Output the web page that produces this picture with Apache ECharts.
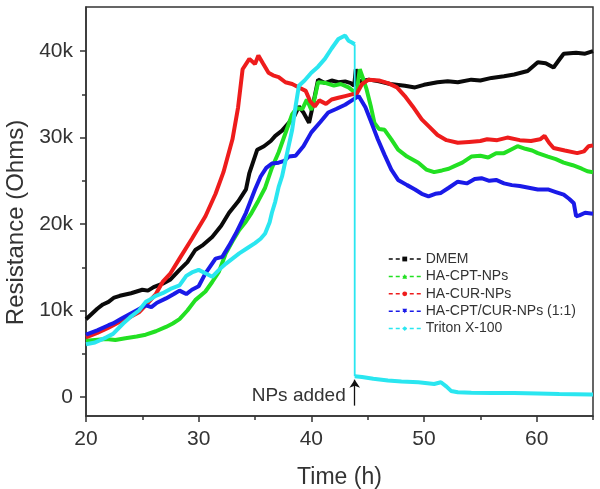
<!DOCTYPE html>
<html>
<head>
<meta charset="utf-8">
<script src="https://cdn.jsdelivr.net/npm/echarts@6/dist/echarts.min.js"></script>
<style>
html,body{margin:0;padding:0;background:#fff;}
#chart{width:600px;height:489px;}
</style>
</head>
<body>
<div id="chart"></div>
<script>
// ---- data (time in h, resistance in Ohms) ----
const seriesNames = ['DMEM', 'HA-CPT-NPs', 'HA-CUR-NPs', 'HA-CPT/CUR-NPs (1:1)', 'Triton X-100'];

const dmem = [[20,9000],[20.5,9600],[21,10200],[21.5,10700],[22,11000],[22.5,11500],[23,11700],[24,12000],[25,12400],[25.5,12300],[26,12700],[26.8,13100],[27.5,13600],[28.3,14700],[29,15600],[29.7,17000],[30.3,17500],[31.2,18500],[32,19800],[32.7,21300],[33.5,22600],[34.2,24000],[34.5,25900],[35.2,28600],[35.8,29000],[36.4,29600],[36.8,30200],[37.4,30800],[38,31700],[38.5,32500],[38.9,33600],[39.3,32900],[39.8,31700],[40.1,33500],[40.6,36700],[41.2,36300],[41.8,36600],[42.4,36400],[43,36500],[43.5,36300],[43.8,36000],[43.95,37900],[44.2,36500],[45.1,36700],[46,36500],[47,36200],[48.3,36000],[49.2,35800],[50,36100],[51.2,36400],[52.1,36500],[53,36400],[54.2,36700],[55,36600],[56,36900],[57.1,37100],[58,37300],[59.2,37700],[60.1,38700],[60.8,38600],[61.5,38100],[62,39000],[62.4,39700],[63.5,39800],[64.3,39700],[65,40000]];

const haCpt = [[20,6500],[20.8,6600],[21.8,6700],[22.6,6600],[23.5,6800],[24.5,7000],[25.3,7200],[26.2,7600],[27.1,8100],[27.7,8500],[28.3,9000],[29,10000],[29.7,11200],[30.6,12200],[31.2,13300],[31.8,14500],[32.4,16600],[33,18000],[33.6,19300],[34.2,20300],[34.7,21300],[35.3,22700],[35.9,24200],[36.5,26500],[37.1,28300],[37.7,30500],[38.3,32700],[38.7,33400],[39.2,33300],[39.6,34400],[40,33200],[40.3,34600],[40.6,36400],[41.3,36300],[42,36000],[42.6,36200],[43.3,35800],[43.9,35200],[44.1,36000],[44.3,37900],[44.6,36800],[44.9,35600],[45.3,33500],[45.6,31700],[46,31000],[46.5,30900],[47.1,29800],[47.7,28600],[48.5,27800],[49.5,27100],[50.2,26300],[50.9,26000],[51.6,26200],[52.2,26400],[52.7,26700],[53.4,27100],[54.2,27800],[55,27900],[55.7,27700],[56.4,28200],[57.1,28200],[57.7,28600],[58.3,29000],[59,28700],[59.6,28500],[60.1,28200],[61,27800],[61.7,27500],[62.4,27100],[63.2,26800],[64,26400],[64.5,26100],[65,26000]];

const haCur = [[20,6900],[21,7400],[22,8000],[23,8700],[24,9300],[24.7,9800],[25.3,10600],[26.2,11900],[26.8,13300],[27.5,14300],[28.3,16000],[29.4,18300],[30.6,20900],[31.5,23500],[32.2,26000],[33,29800],[33.5,33500],[33.9,37900],[34.5,39100],[35,38500],[35.3,39500],[35.7,38600],[36.2,37500],[36.6,37200],[37.1,37000],[37.7,36400],[38.3,36200],[38.9,35800],[39.5,35400],[39.9,34200],[40.3,33600],[40.7,34300],[41.3,33900],[41.8,34400],[42.4,34600],[43,34800],[43.6,35000],[44,35000],[44.5,36200],[45.1,36700],[46,36600],[46.8,36300],[47.6,35800],[48.3,34800],[49,33600],[49.8,32100],[50.5,31200],[51.2,30300],[52,29700],[53,29400],[54,29500],[55,29600],[55.6,29800],[56.5,29700],[57.4,30000],[58.5,29700],[59.5,29600],[60.3,29800],[60.7,30200],[61.1,29400],[61.5,28800],[62.5,28500],[63.6,28200],[64.2,28400],[64.6,29000],[65,29100]];

const haCptCur = [[20,7200],[21,7700],[22,8300],[22.4,8500],[23.2,9100],[23.9,9600],[24.6,10100],[25.3,10600],[25.8,10400],[26.3,10900],[27.1,11400],[27.8,11900],[28.3,12300],[28.9,11900],[29.4,12400],[30,12800],[30.6,14300],[31.5,16000],[32.1,16200],[32.7,17500],[33.3,18900],[34.2,21300],[35,24000],[35.5,25500],[36,26500],[36.5,27000],[37.1,27100],[37.6,27300],[38,27800],[38.6,27900],[39.3,29000],[40,30600],[40.8,31800],[41.5,32900],[42.2,33300],[43,33800],[43.6,34300],[44.2,34800],[44.8,33500],[45.4,31500],[45.9,29800],[46.5,28000],[47.1,26300],[47.7,25100],[48.5,24500],[49.2,24000],[49.8,23500],[50.4,23200],[51,23500],[51.5,23600],[52.2,24200],[53,24900],[53.8,24700],[54.5,25200],[55.1,25300],[55.8,25000],[56.4,25100],[57.1,24700],[57.8,24500],[58.5,24400],[59.3,24200],[60.1,24000],[61,24000],[61.7,23700],[62.4,23400],[62.9,22900],[63.3,22400],[63.5,20900],[63.8,21000],[64.3,21300],[65,21200]];

// Triton X-100: before and after the drop (NPs added at ~43.85 h)
const tritonBeforeDrop = [[20,6100],[20.8,6300],[21.8,6900],[22.4,7300],[23.3,8500],[23.9,9200],[24.7,10000],[25.3,11000],[25.6,11200],[26.2,11700],[26.8,12000],[27.5,12500],[28.3,12900],[28.9,14000],[29.4,14400],[30,14700],[30.6,14300],[31.2,13900],[31.8,14700],[32.4,15400],[33,16000],[33.6,16600],[34.3,17200],[35,17800],[35.5,18300],[35.9,18900],[36.3,20200],[36.5,21300],[36.8,22600],[37.1,24300],[37.4,25500],[37.9,28500],[38.3,30900],[38.6,33600],[38.9,36000],[39.4,36600],[40,37500],[40.6,38200],[41.2,39100],[41.8,40300],[42.4,41400],[43,41800],[43.3,41200],[43.6,41000],[43.85,40800]];
const tritonAfterDrop = [[43.85,2400],[44.5,2300],[45.5,2100],[46.8,1900],[48,1800],[49.5,1700],[50.9,1500],[51.5,1700],[52,1200],[52.4,700],[53,550],[54.2,500],[56,450],[58,450],[60.1,400],[62,350],[64.8,300],[65,300]];

const xMajorTicks = [20, 30, 40, 50, 60];
const xMinorTicks = [25, 35, 45, 55, 65];
const yMajorTicks = [0, 10000, 20000, 30000, 40000];
const yMinorTicks = [5000, 15000, 25000, 35000];
const annotationText = 'NPs added';
const arrowStart = [43.85, -1000];
const arrowEnd = [43.85, 2000];
const labelAnchor = [43.85, 100];

// ---- styling ----
const colors = ['#0a0a0a', '#22e022', '#ee1c1c', '#1a1ae8', '#2ae6f0'];
const symbols = ['rect', 'triangle', 'circle', 'path://M0,0 L10,0 L5,10 Z', 'diamond'];
const axisColor = '#333';
const font = "'Liberation Sans', Arial, sans-serif";

const chart = echarts.init(document.getElementById('chart'), null, {renderer: 'canvas'});

function lineSeries(name, data, i, width, z) {
  return {
    name: name,
    type: 'line',
    data: data,
    showSymbol: false,
    symbol: symbols[i],
    symbolSize: 5,
    xAxisIndex: 0,
    yAxisIndex: 0,
    lineStyle: {color: colors[i], width: width},
    itemStyle: {color: colors[i]},
    z: z
  };
}

const series = [
  lineSeries(seriesNames[0], dmem, 0, 4, 2),
  lineSeries(seriesNames[1], haCpt, 1, 4, 3),
  lineSeries(seriesNames[2], haCur, 2, 4, 4),
  lineSeries(seriesNames[3], haCptCur, 3, 4, 5),
  lineSeries(seriesNames[4], tritonBeforeDrop, 4, 4, 6),
  lineSeries(seriesNames[4], [tritonBeforeDrop[tritonBeforeDrop.length - 1], tritonAfterDrop[0]], 4, 1.8, 6),
  lineSeries(seriesNames[4], tritonAfterDrop, 4, 4, 6)
];

series[6].markLine = {
  silent: true,
  symbol: ['none', 'arrow'],
  symbolSize: 8,
  label: {show: false},
  lineStyle: {color: '#111', width: 1.3, type: 'solid'},
  data: [[{coord: arrowStart}, {coord: arrowEnd}]]
};
series[6].markPoint = {
  silent: true,
  symbol: 'circle',
  symbolSize: 0,
  data: [{coord: labelAnchor}],
  label: {show: true, position: 'left', distance: 9, formatter: annotationText, fontSize: 19, color: '#333', fontFamily: font}
};

const tickLine = {color: axisColor, width: 1.5};
const labelFmt = v => v === 0 ? '0' : (v / 1000) + 'k';

chart.setOption({
  animation: false,
  backgroundColor: '#fff',
  textStyle: {fontFamily: font},
  grid: {left: 86, right: 7, top: 7, bottom: 73, show: true, borderColor: axisColor, borderWidth: 1.5, containLabel: false, outerBoundsMode: 'none'},
  legend: {
    orient: 'vertical',
    left: 388,
    top: 252,
    padding: 0,
    itemWidth: 32,
    itemHeight: 6,
    itemGap: 3.4,
    data: seriesNames,
    lineStyle: {width: 1.5, type: [4, 3]},
    textStyle: {fontSize: 14, color: '#333', lineHeight: 14, fontFamily: font}
  },
  xAxis: [
    {
      type: 'value', min: 20, max: 65, position: 'bottom',
      axisLine: {onZero: false, lineStyle: tickLine},
      axisTick: {customValues: xMajorTicks, length: 6, lineStyle: tickLine},
      axisLabel: {customValues: xMajorTicks, fontSize: 21, color: '#333', margin: 13},
      splitLine: {show: false},
      name: 'Time (h)', nameLocation: 'middle', nameGap: 50,
      nameTextStyle: {fontSize: 23, color: '#333'}
    },
    {
      type: 'value', min: 20, max: 65, position: 'bottom',
      axisLine: {show: false, onZero: false},
      axisTick: {customValues: xMinorTicks, length: 4, lineStyle: tickLine},
      axisLabel: {show: false},
      splitLine: {show: false}
    }
  ],
  yAxis: [
    {
      type: 'value', min: -2200, max: 45100, position: 'left',
      axisLine: {show: true, onZero: false, lineStyle: tickLine},
      axisTick: {show: true, customValues: yMajorTicks, length: 6, lineStyle: tickLine},
      axisLabel: {customValues: yMajorTicks, fontSize: 21, color: '#333', margin: 13, formatter: labelFmt},
      splitLine: {show: false},
      name: 'Resistance (Ohms)', nameLocation: 'middle', nameGap: 57,
      nameTextStyle: {fontSize: 24, color: '#333', padding: [0, 22, 0, 0]}
    },
    {
      type: 'value', min: -2200, max: 45100, position: 'left',
      axisLine: {show: false, onZero: false},
      axisTick: {show: true, customValues: yMinorTicks, length: 4, lineStyle: tickLine},
      axisLabel: {show: false},
      splitLine: {show: false}
    }
  ],
  series: series
});
</script>
</body>
</html>
